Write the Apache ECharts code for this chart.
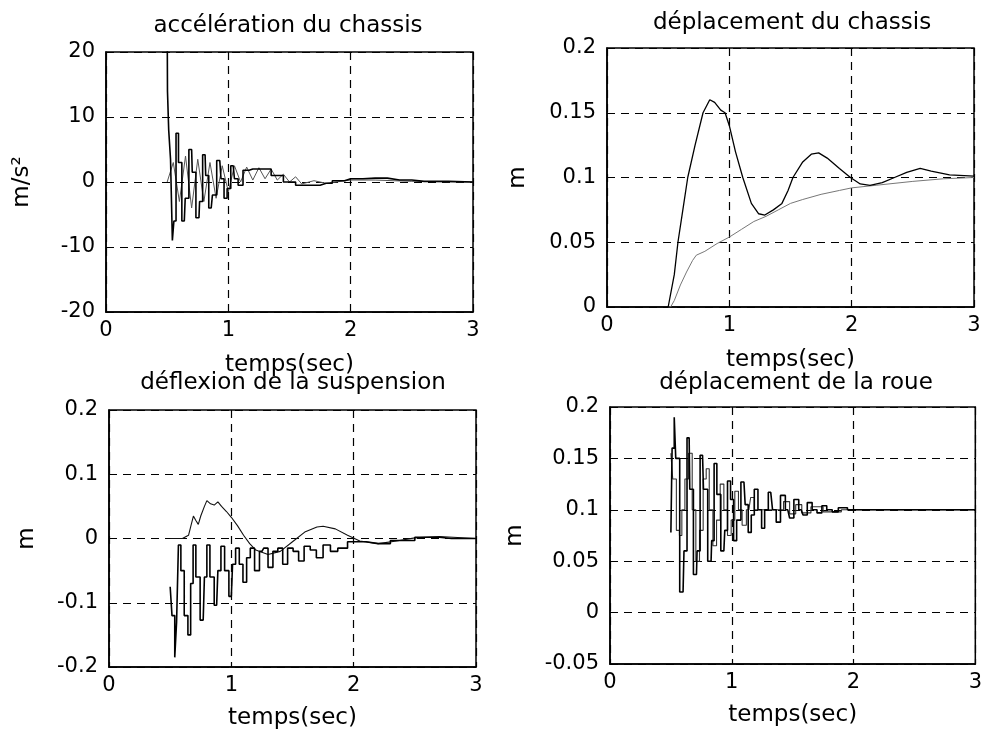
<!DOCTYPE html>
<html>
<head>
<meta charset="utf-8">
<script src="https://cdn.jsdelivr.net/npm/echarts@6/dist/echarts.min.js"></script>
<style>
html,body{margin:0;padding:0;background:#fff;}
#c{width:985px;height:732px;}
</style>
</head>
<body>
<div id="c"></div>
<script>
// ---------- titles / labels ----------
const titles = ["accélération du chassis", "déplacement du chassis", "déflexion de la suspension", "déplacement de la roue"];
const xName = "temps(sec)";
const yNames = ["m/s²", "m", "m", "m"];

// ---------- tick definitions ----------
const xTicks = [0, 1, 2, 3];
const yTicksAcc = [-20, -10, 0, 10, 20];
const yTicksDepChassis = [0, 0.05, 0.1, 0.15, 0.2];
const yTicksDefl = [-0.2, -0.1, 0, 0.1, 0.2];
const yTicksRoue = [-0.05, 0, 0.05, 0.1, 0.15, 0.2];

// ---------- data: [time (s), value] ----------
// accélération du chassis (m/s²)
const accA = [[0.5,26],[0.505,14],[0.52,8],[0.535,3.5],[0.55,-9],[0.56,-6],[0.585,7.5],[0.6,3],[0.64,-6],[0.655,-2.5],[0.7,5],[0.71,1.5],[0.76,-5.5],[0.77,-3],[0.81,4.2],[0.82,1],[0.86,-4],[0.88,-2],[0.93,3.3],[0.95,0.5],[0.98,-2.5],[1.0,-1],[1.04,2.5],[1.06,0.5],[1.1,-0.5],[1.14,1.8],[1.2,2],[1.3,2],[1.4,1],[1.5,0],[1.6,-0.5],[1.7,-0.5],[1.8,-0.2],[1.9,0.2],[2.0,0.5],[2.2,0.6],[2.4,0.3],[2.6,0.1],[3,0]];
const accB = [[0.5,0],[0.55,3],[0.6,-3],[0.65,4],[0.7,-4],[0.75,3.5],[0.8,-3],[0.85,3],[0.9,-2.5],[0.95,2.5],[1.0,-1.5],[1.05,2.5],[1.1,0],[1.15,2.3],[1.2,0.3],[1.25,2.2],[1.3,0.5],[1.35,2],[1.4,0.3],[1.45,1.2],[1.5,0],[1.55,0.8],[1.6,-0.3],[1.7,0.2],[1.8,-0.2],[2.0,0.3],[2.2,0.3],[2.5,0.1],[3,0]];

// déplacement du chassis (m)
const depA = [[0.5,0],[0.515,0],[0.55,0.025],[0.58,0.05],[0.62,0.075],[0.66,0.1],[0.72,0.125],[0.785,0.15],[0.84,0.16],[0.88,0.158],[0.93,0.152],[0.965,0.15],[1.0,0.14],[1.05,0.12],[1.11,0.1],[1.18,0.08],[1.24,0.072],[1.29,0.071],[1.36,0.075],[1.43,0.08],[1.48,0.09],[1.52,0.1],[1.6,0.112],[1.67,0.118],[1.73,0.119],[1.8,0.115],[1.9,0.107],[1.99,0.1],[2.07,0.095],[2.15,0.094],[2.25,0.096],[2.35,0.1],[2.45,0.104],[2.56,0.107],[2.65,0.105],[2.8,0.102],[3,0.101]];
const depB = [[0.5,0],[0.52,0],[0.55,0.005],[0.6,0.017],[0.65,0.027],[0.7,0.036],[0.73,0.04],[0.8,0.043],[0.9,0.049],[1.0,0.054],[1.1,0.06],[1.2,0.066],[1.3,0.07],[1.4,0.075],[1.5,0.08],[1.6,0.083],[1.75,0.087],[1.9,0.09],[2.0,0.092],[2.2,0.094],[2.5,0.097],[2.75,0.099],[3,0.1]];

// déflexion de la suspension (m)
const deflA = [[0.5,0],[0.55,0],[0.6,0],[0.65,0.005],[0.67,0.02],[0.69,0.035],[0.71,0.028],[0.73,0.022],[0.75,0.035],[0.78,0.05],[0.8,0.059],[0.83,0.054],[0.86,0.052],[0.89,0.057],[0.92,0.05],[0.96,0.042],[1.0,0.033],[1.05,0.02],[1.1,0.005],[1.15,-0.008],[1.2,-0.018],[1.3,-0.025],[1.4,-0.02],[1.5,-0.005],[1.6,0.01],[1.7,0.018],[1.75,0.019],[1.85,0.015],[1.95,0.005],[2.05,-0.004],[2.2,-0.008],[2.35,-0.004],[2.5,0.001],[2.7,0.003],[3,0]];
const deflB = [[0.5,-0.075],[0.53,-0.12],[0.545,-0.185],[0.56,-0.13],[0.575,-0.01],[0.6,-0.05],[0.63,-0.12],[0.66,-0.15],[0.675,-0.07],[0.7,-0.01],[0.72,-0.06],[0.77,-0.127],[0.79,-0.06],[0.81,-0.01],[0.84,-0.06],[0.88,-0.104],[0.9,-0.05],[0.93,-0.012],[0.96,-0.05],[1.0,-0.09],[1.02,-0.04],[1.05,-0.015],[1.08,-0.04],[1.11,-0.068],[1.14,-0.03],[1.17,-0.015],[1.21,-0.05],[1.25,-0.02],[1.28,-0.015],[1.32,-0.045],[1.36,-0.02],[1.4,-0.015],[1.44,-0.04],[1.48,-0.015],[1.53,-0.02],[1.57,-0.035],[1.62,-0.012],[1.67,-0.018],[1.72,-0.03],[1.78,-0.01],[1.84,-0.02],[1.9,-0.015],[2.0,-0.005],[2.2,-0.008],[2.4,-0.003],[2.6,0.002],[2.8,0],[3,0]];

// déplacement de la roue (m)
const roueA = [[0.5,0.078],[0.52,0.16],[0.535,0.19],[0.545,0.15],[0.6,0.02],[0.615,0.06],[0.65,0.17],[0.66,0.12],[0.71,0.037],[0.72,0.06],[0.76,0.153],[0.775,0.12],[0.83,0.05],[0.84,0.07],[0.87,0.145],[0.885,0.115],[0.935,0.06],[0.95,0.08],[0.98,0.128],[1.0,0.11],[1.03,0.07],[1.05,0.09],[1.1,0.127],[1.12,0.105],[1.15,0.078],[1.17,0.095],[1.2,0.12],[1.23,0.1],[1.26,0.082],[1.28,0.1],[1.32,0.117],[1.35,0.1],[1.38,0.088],[1.42,0.114],[1.46,0.1],[1.49,0.092],[1.53,0.11],[1.57,0.1],[1.6,0.095],[1.64,0.107],[1.68,0.1],[1.72,0.097],[1.76,0.104],[1.8,0.1],[1.85,0.098],[1.9,0.102],[2.0,0.1],[2.2,0.1],[3,0.1]];
const roueB = [[0.5,0.155],[0.53,0.13],[0.56,0.08],[0.58,0.075],[0.6,0.1],[0.63,0.13],[0.66,0.155],[0.69,0.1],[0.72,0.05],[0.75,0.08],[0.78,0.13],[0.8,0.14],[0.83,0.1],[0.86,0.065],[0.89,0.09],[0.92,0.125],[0.95,0.1],[0.98,0.075],[1.01,0.09],[1.04,0.118],[1.07,0.1],[1.1,0.085],[1.14,0.1],[1.17,0.112],[1.2,0.1],[1.3,0.1],[1.4,0.1],[1.45,0.108],[1.5,0.096],[1.55,0.105],[1.6,0.097],[1.7,0.103],[1.8,0.098],[2.0,0.1],[3,0.1]];

// ---------- chart ----------
const FONT = "DejaVu Sans";
const grids = [
  {left:106, top:52, width:367, height:260},
  {left:607, top:48, width:367, height:259},
  {left:109, top:410, width:367, height:257},
  {left:610, top:407, width:368, height:257}
];
const titlePos = [[283,10],[787,7],[288,367],[791,367]];
const yTickSets = [yTicksAcc, yTicksDepChassis, yTicksDefl, yTicksRoue];
const yNameGaps = [72, 77, 70, 83];
const xNameGaps = [42, 42, 40, 40];
// per panel: [data, colour, width, step]
const seriesSets = [
  [[accB,'#555',1,false],[accA,'#000',1.6,'middle']],
  [[depB,'#777',1,false],[depA,'#000',1.3,false]],
  [[deflA,'#111',1.1,false],[deflB,'#000',1.6,'middle']],
  [[roueB,'#333',1.1,'middle'],[roueA,'#000',1.6,'middle']]
];

const gridLine = {show:true, lineStyle:{color:'#000', type:[8,6], width:1.2}};

const option = {
  animation:false,
  backgroundColor:'#fff',
  title: titles.map((t,i)=>({
    text:t, left:titlePos[i][0], top:titlePos[i][1], textAlign:'center',
    textStyle:{fontFamily:FONT, fontSize:23, fontWeight:'normal', color:'#000'}
  })),
  grid: grids.map(g=>Object.assign({show:true, borderColor:'#000', borderWidth:1.5, backgroundColor:'transparent'}, g)),
  xAxis: grids.map((g,i)=>({
    type:'value', gridIndex:i, min:xTicks[0], max:xTicks[xTicks.length-1], interval:1,
    name:xName, nameLocation:'middle', nameGap:xNameGaps[i],
    nameTextStyle:{fontFamily:FONT, fontSize:23, color:'#000'},
    axisLine:{show:true, onZero:false, lineStyle:{color:'#000', width:1.5}},
    axisTick:{show:true, inside:true, length:4, lineStyle:{color:'#000'}},
    axisLabel:{fontFamily:FONT, fontSize:21, color:'#000', margin:8},
    splitLine:gridLine
  })),
  yAxis: grids.map((g,i)=>{
    const tk = yTickSets[i];
    return {
      type:'value', gridIndex:i, min:tk[0], max:tk[tk.length-1], interval:tk[1]-tk[0],
      name:yNames[i], nameLocation:'middle', nameGap:yNameGaps[i],
      nameTextStyle:{fontFamily:FONT, fontSize:23, color:'#000'},
      axisLine:{show:true, onZero:false, lineStyle:{color:'#000', width:1.5}},
      axisTick:{show:true, inside:true, length:4, lineStyle:{color:'#000'}},
      axisLabel:{fontFamily:FONT, fontSize:21, color:'#000', margin:11,
        formatter: v => { const m = tk.find(t=>Math.abs(t-v)<1e-9); return String(m!==undefined?m:v); }},
      splitLine:gridLine
    };
  }),
  series: []
};
seriesSets.forEach((set,i)=>{
  set.forEach(s=>{
    option.series.push({type:'line', xAxisIndex:i, yAxisIndex:i, data:s[0], showSymbol:false, clip:true,
      step:s[3], lineStyle:{color:s[1], width:s[2]}});
  });
});
const chart = echarts.init(document.getElementById('c'), null, {renderer:'canvas'});
chart.setOption(option);
</script>
</body>
</html>
